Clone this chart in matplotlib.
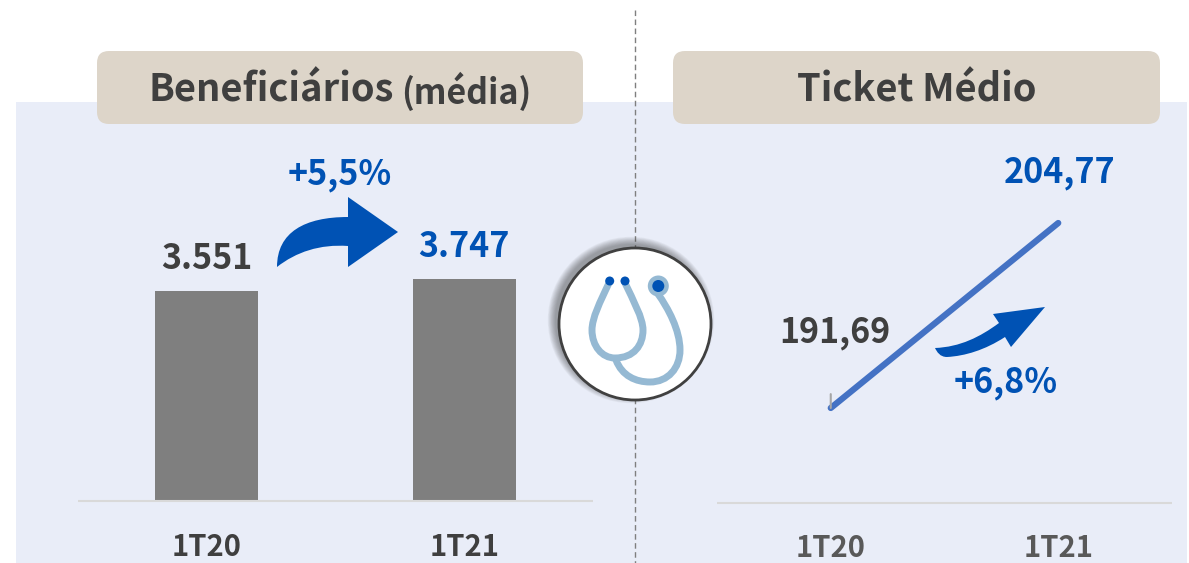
import matplotlib
matplotlib.use('Agg')
import matplotlib.pyplot as plt
from matplotlib.patches import Circle, FancyBboxPatch, PathPatch, Rectangle
from matplotlib.path import Path

plt.rcParams['font.family'] = ['Noto Sans CJK SC', 'DejaVu Sans']

periods = ['1T20', '1T21']
beneficiarios = [3551, 3747]
ticket = [191.69, 204.77]
beneficiarios_labels = ['3.551', '3.747']
ticket_labels = ['191,69', '204,77']

W, H = 1189, 563
BLUE = '#0052B4'
DARK = '#3F3F3F'


def px_axes(fig, x0, y0, x1, y1, **kw):
    # pixel box, y measured from the top of the picture
    return fig.add_axes([x0 / W, 1 - y1 / H, (x1 - x0) / W, (y1 - y0) / H], **kw)


def curve(ax, verts, codes, **kw):
    ax.add_patch(PathPatch(Path(verts, codes), **kw))


fig = plt.figure(figsize=(W / 100, H / 100), dpi=100, facecolor='white')

# decorations, drawn in picture pixels
bg = px_axes(fig, 0, 0, W, H, zorder=0)
bg.set_xlim(0, W)
bg.set_ylim(H, 0)
bg.axis('off')

bg.add_patch(Rectangle((16, 102), 1171, 461, fc='#E9EDF8', ec='none'))
for x0, x1 in [(97, 583), (673, 1160)]:
    bg.add_patch(FancyBboxPatch((x0, 51), x1 - x0, 73, boxstyle='round,pad=0,rounding_size=12',
                                fc='#DDD5C9', ec='none'))
bg.plot([634.5, 634.5], [10, 563], color='#7F7F7F', lw=1, ls=(0, (4, 2.5)))

bg.text(149, 90, 'Beneficiários', fontsize=27.4, fontweight='bold', color=DARK, va='center', ha='left')
bg.text(401, 91, '(média)', fontsize=24.5, fontweight='bold', color=DARK, va='center', ha='left')
bg.text(917, 90, 'Ticket Médio', fontsize=27.4, fontweight='bold', color=DARK, va='center', ha='center')

bg.text(340, 174, '+5,5%', fontsize=24.5, fontweight='bold', color=BLUE, va='center', ha='center')
bg.text(1006, 382, '+6,8%', fontsize=24.5, fontweight='bold', color=BLUE, va='center', ha='center')

M, L, C, Z = Path.MOVETO, Path.LINETO, Path.CURVE4, Path.CLOSEPOLY
curve(bg, [(277, 267), (277, 232), (305, 217), (348, 217), (348, 197), (398, 232), (348, 267),
           (348, 246), (320, 244), (296, 252), (277, 267), (277, 267)],
      [M, C, C, C, L, L, L, L, C, C, C, Z], fc=BLUE, ec='none')
curve(bg, [(935, 348), (960, 347), (980, 337), (999, 323), (993, 314), (1045, 307), (1011, 347),
           (1005, 337), (985, 350), (965, 356), (947, 357), (940, 357), (937, 352), (935, 348), (935, 348)],
      [M, C, C, C, L, L, L, L, C, C, C, C, C, C, Z], fc=BLUE, ec='none')

# soft shadow under the badge, pushed up and to the left
for i in range(10):
    bg.add_patch(Circle((635 - 4, 324 - 4), 76 + i * 0.8, fc='#303030', ec='none', alpha=0.05, zorder=5))
bg.add_patch(Circle((635, 324), 76, fc='white', ec='#404040', lw=2, zorder=6))

# stethoscope
TUBE = '#95B9D3'
tube_kw = dict(fc='none', ec=TUBE, lw=5, capstyle='round', zorder=7)
curve(bg, [(609, 283), (600, 302), (592, 318), (592, 330), (592, 346), (602, 358), (615, 358),
           (634, 358), (643, 345), (643, 330), (643, 318), (633, 300), (625, 283)],
      [M, C, C, C, C, C, C, C, C, C, C, C, C], **tube_kw)
curve(bg, [(616, 360), (622, 376), (636, 382), (650, 382), (668, 382), (680, 368), (680, 350),
           (680, 330), (668, 308), (658, 294)],
      [M, C, C, C, C, C, C, C, C, C], **tube_kw)
bg.add_patch(Circle((658.3, 286), 10.5, fc=TUBE, ec='none', zorder=8))
bg.add_patch(Circle((658.3, 286), 6, fc=BLUE, ec='none', zorder=9))
bg.add_patch(Circle((609.7, 281), 4.5, fc=BLUE, ec='none', zorder=8))
bg.add_patch(Circle((625, 281), 4.5, fc=BLUE, ec='none', zorder=8))

# left chart: bars
ax1 = px_axes(fig, 77.5, 200, 593, 501, zorder=1)
ax1.patch.set_alpha(0)
ax1.bar(periods, beneficiarios, width=0.4, color='#7F7F7F')
ax1.set_xlim(-0.5, 1.5)
ax1.set_ylim(0, 301 / (210 / 3551))
ax1.set_yticks([])
for s in ['top', 'left', 'right']:
    ax1.spines[s].set_visible(False)
ax1.spines['bottom'].set_color('#D9D9D9')
ax1.spines['bottom'].set_linewidth(1.5)
ax1.spines['bottom'].set_capstyle('butt')
ax1.tick_params(axis='x', length=0, pad=22.5, labelsize=21, labelcolor=DARK)
for lab in ax1.get_xticklabels():
    lab.set_fontweight('bold')
for i, (v, t, c) in enumerate(zip(beneficiarios, beneficiarios_labels, [DARK, BLUE])):
    ax1.annotate(t, (i, v), xytext=(0, 11), textcoords='offset points', ha='center', va='bottom',
                 fontsize=24.5, fontweight='bold', color=c)

# right chart: line
ax2 = px_axes(fig, 717, 150, 1172, 503, zorder=1)
ax2.patch.set_alpha(0)
ax2.plot(periods, ticket, color='#4472C4', lw=4.5, solid_capstyle='round')
ax2.set_xlim(-0.5, 1.5)
scale = (408 - 223) / (ticket[1] - ticket[0])
ymin = ticket[0] - (503 - 408) / scale
ax2.set_ylim(ymin, ymin + 353 / scale)
ax2.set_yticks([])
for s in ['top', 'left', 'right']:
    ax2.spines[s].set_visible(False)
ax2.spines['bottom'].set_color('#D9D9D9')
ax2.spines['bottom'].set_linewidth(1.5)
ax2.spines['bottom'].set_capstyle('butt')
ax2.tick_params(axis='x', length=0, pad=21.5, labelsize=21, labelcolor='#595959')
for lab in ax2.get_xticklabels():
    lab.set_fontweight('bold')
ax2.annotate('', (0, ticket[0]), xytext=(0, 10), textcoords='offset points',
             arrowprops=dict(arrowstyle='-', color='#A6A6A6', lw=1.5, shrinkA=0, shrinkB=0))
ax2.annotate(ticket_labels[0], (0, ticket[0]), xytext=(3, 42), textcoords='offset points',
             ha='center', va='bottom', fontsize=24.5, fontweight='bold', color=DARK)
ax2.annotate(ticket_labels[1], (1, ticket[1]), xytext=(1, 24), textcoords='offset points',
             ha='center', va='bottom', fontsize=24.5, fontweight='bold', color=BLUE)

fig.savefig('out.png', dpi=100)
